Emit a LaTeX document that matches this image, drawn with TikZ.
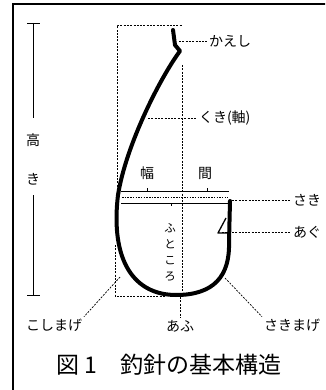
\documentclass[tikz,border=0pt]{standalone}
\usepackage{fontspec}
\setmainfont{Noto Sans CJK JP}
\usetikzlibrary{positioning}

\begin{document}
\begin{tikzpicture}[x=1pt, y=-1pt,
  lbl/.style={font=\fontsize{14}{14}\selectfont, inner sep=0pt, outer sep=2pt},
  lead/.style={line width=0.7pt, dash pattern=on 2pt off 1.3pt},
  hook/.style={line width=4pt, line join=round, line cap=round}]
\useasboundingbox (0,0) rectangle (325,390);
\clip (0,0) rectangle (325,390);
\draw [line width=1.8pt] (13,4) rectangle (345,400);

% height bar
\draw [line width=0.9pt] (27,23) -- (40,23) (27,295) -- (40,295);
\coordinate (ht) at (33,23);
\coordinate (h1) at (33,118);
\coordinate (h2) at (33,195);
\coordinate (hb) at (33,295);
\node (taka) at (33,140) [lbl] {高};
\node (ki) at (33,179) [lbl] {き};
\draw [line width=0.9pt] (ht) -- (h1);
\draw [line width=0.9pt] (h2) -- (hb);

% guide lines
\draw [lead] (117,190) -- (117,25) -- (182,25);
\draw [lead] (115,245) -- (115,296) -- (165,296);
\draw [lead] (182,65) -- (182,296);

% width bars
\draw [line width=0.8pt] (121,191) -- (229,191) (121,203) -- (229,203);
\draw [line width=0.6pt] (147,191) -- (147,188) (207,191) -- (207,188) (171,203) -- (171,206);
\draw [line width=0.6pt, dash pattern=on 1.5pt off 1.2pt] (122,197) -- (228,197);

% the hook
\draw [hook] (173,30) -- (175,45) -- (180,51)
  .. controls (160,78) and (126,145) .. (118,195)
  .. controls (110,262) and (135,295) .. (176,295)
  .. controls (214,295) and (230,276) .. (229,242) -- (230,201);
\draw [line width=1.3pt, line join=round] (226,218) -- (218,233) -- (229,233);

% labels
\node (haba) at (147,173) [lbl] {幅};
\node (ma) at (205,173) [lbl] {間};
\node (futokoro) at (170,252) [lbl, align=center, font=\fontsize{11.5}{16}\selectfont] {ふ\\と\\こ\\ろ};

\node (kaeshi) at (207,41) [lbl, anchor=west] {かえし};
\node (kuki) at (197,118) [lbl, anchor=west] {くき(軸)};
\node (saki) at (291,200) [lbl, anchor=west] {さき};
\node (agu) at (291,232) [lbl, anchor=west] {あぐ};
\node (koshimage) at (54,325) [lbl] {こしまげ};
\node (afu) at (180,326) [lbl] {あふ};
\node (sakimage) at (292,325) [lbl] {さきまげ};

\coordinate (kaeshi-pt) at (179,41);
\coordinate (kuki-pt) at (148,118);
\coordinate (saki-pt) at (232,200);
\coordinate (agu-pt) at (222,232);
\coordinate (koshi-pt) at (120,277);
\coordinate (afu-pt) at (180,297);
\coordinate (sakim-pt) at (225,278);

\draw [lead] (kaeshi-pt) -- (kaeshi);
\draw [lead] (kuki-pt) -- (kuki);
\draw [lead] (saki-pt) -- (saki);
\draw [lead] (agu-pt) -- (agu);
\draw [lead] (koshi-pt) -- (koshimage.north east);
\draw [lead] (afu-pt) -- (afu);
\draw [lead] (sakim-pt) -- (sakimage.north west);

% caption
\node (caption) at (169,365) [font=\fontsize{23}{23}\selectfont] {図 1　釣針の基本構造};
\end{tikzpicture}
\end{document}
